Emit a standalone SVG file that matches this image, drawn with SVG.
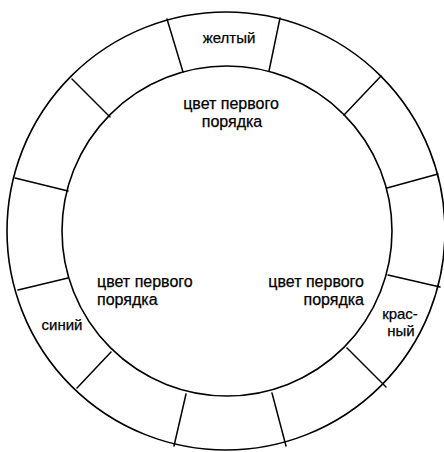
<svg xmlns="http://www.w3.org/2000/svg" width="444" height="452" viewBox="0 0 444 452">
<style>
.ring{fill:none;stroke:#000;stroke-width:1.6}
.spoke{stroke:#000;stroke-width:1.5;stroke-linecap:round}
.lab{font-family:"Liberation Sans",Arial,sans-serif;fill:#000;stroke:#000;stroke-width:0.25}
.big{font-size:16px}
.small{font-size:15px}
</style>
<rect width="444" height="452" fill="#fff"/>
<g id="wheel">
<circle class="ring" cx="226" cy="231" r="219"/>
<circle class="ring" cx="227" cy="231" r="165"/>
</g>
<g id="spokes">
<line class="spoke" x1="183" y1="72" x2="167" y2="19"/>
<line class="spoke" x1="269" y1="71" x2="280" y2="18"/>
<line class="spoke" x1="344" y1="115" x2="381" y2="76"/>
<line class="spoke" x1="387" y1="188" x2="438" y2="174"/>
<line class="spoke" x1="388" y1="275" x2="440" y2="287"/>
<line class="spoke" x1="347" y1="348" x2="386" y2="387"/>
<line class="spoke" x1="272" y1="393" x2="286" y2="446"/>
<line class="spoke" x1="186" y1="394" x2="174" y2="446"/>
<line class="spoke" x1="111" y1="352" x2="77" y2="388"/>
<line class="spoke" x1="68" y1="278" x2="18" y2="290"/>
<line class="spoke" x1="68" y1="191" x2="15" y2="178"/>
<line class="spoke" x1="110" y1="117" x2="72" y2="79"/>
</g>
<g id="yellow"><text class="lab small" x="229" y="43" text-anchor="middle">желтый</text></g>
<g id="blue"><text class="lab small" x="62" y="330" text-anchor="middle">синий</text></g>
<g id="red"><text class="lab small" x="400" y="319" text-anchor="middle">крас-</text><text class="lab small" x="401" y="336" text-anchor="middle">ный</text></g>
<g id="primary-top"><text class="lab big" x="231" y="109" text-anchor="middle">цвет первого</text><text class="lab big" x="232" y="127" text-anchor="middle">порядка</text></g>
<g id="primary-left"><text class="lab big" x="97" y="287">цвет первого</text><text class="lab big" x="97" y="305">порядка</text></g>
<g id="primary-right"><text class="lab big" x="364" y="287" text-anchor="end">цвет первого</text><text class="lab big" x="364" y="305" text-anchor="end">порядка</text></g>
</svg>
